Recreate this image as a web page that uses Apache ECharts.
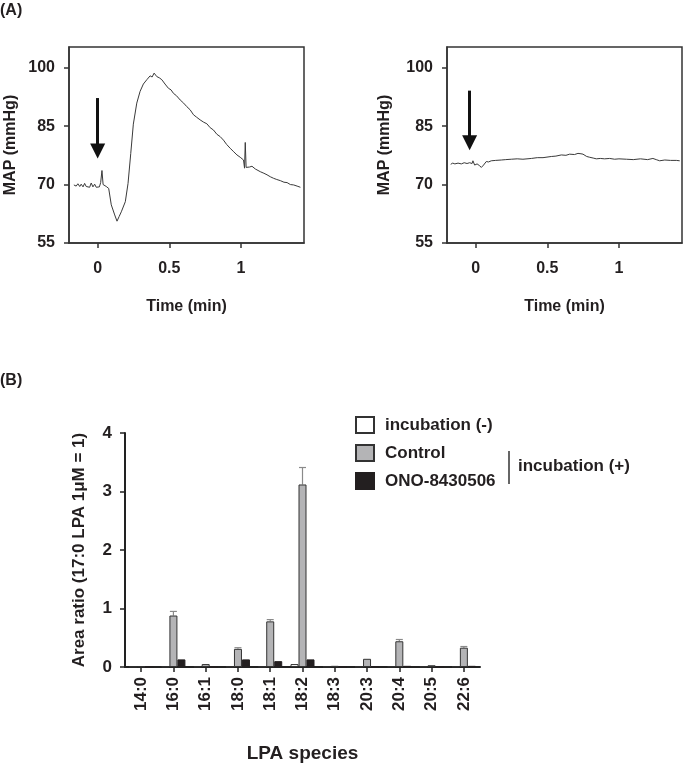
<!DOCTYPE html>
<html>
<head>
<meta charset="utf-8">
<script src="https://cdn.jsdelivr.net/npm/echarts@6/dist/echarts.min.js"></script>
<style>
html,body{margin:0;padding:0;background:#fff;}
#chart{width:685px;height:764px;}
</style>
</head>
<body>
<div id="chart"></div>
<script>
// ---- Panel A data (time in min, MAP in mmHg) ----
const traceLeft = [
  [-0.166, 69.9], [-0.150, 69.6], [-0.138, 70.2], [-0.125, 69.5], [-0.115, 70.1], [-0.102, 69.4],
  [-0.091, 70.3], [-0.080, 69.5], [-0.068, 70.0], [-0.056, 69.3], [-0.045, 70.4], [-0.033, 69.4],
  [-0.021, 70.1], [-0.010, 69.3], [0.002, 69.8], [0.012, 69.4], [0.021, 70.5], [0.030, 73.6],
  [0.038, 70.0], [0.044, 69.6], [0.060, 69.5], [0.077, 69.0], [0.095, 64.8], [0.119, 62.2],
  [0.135, 60.6], [0.150, 61.8], [0.165, 63.0], [0.193, 65.6], [0.212, 70.3], [0.231, 78.0],
  [0.249, 85.5], [0.273, 90.9], [0.296, 93.9], [0.319, 95.8], [0.343, 96.9], [0.355, 97.3],
  [0.366, 97.9], [0.380, 97.6], [0.394, 98.6], [0.404, 98.1], [0.413, 97.7], [0.430, 97.4],
  [0.448, 96.9], [0.470, 95.8], [0.494, 94.7], [0.512, 94.3], [0.529, 93.4], [0.550, 92.8],
  [0.576, 91.7], [0.600, 90.9], [0.622, 90.0], [0.645, 89.2], [0.669, 87.9], [0.690, 87.3],
  [0.715, 86.6], [0.740, 86.0], [0.762, 85.6], [0.785, 84.6], [0.808, 84.0], [0.832, 82.9],
  [0.855, 82.3], [0.878, 81.4], [0.900, 80.3], [0.925, 79.3], [0.950, 78.4], [0.972, 77.6],
  [0.995, 77.0], [1.018, 76.3], [1.025, 74.2], [1.030, 80.8], [1.036, 74.4], [1.045, 74.6],
  [1.060, 74.5], [1.077, 74.7], [1.100, 74.0], [1.135, 73.3], [1.160, 72.9], [1.182, 72.5],
  [1.205, 72.0], [1.228, 71.6], [1.250, 71.3], [1.275, 71.0], [1.300, 70.6], [1.322, 70.5],
  [1.345, 70.0], [1.368, 69.9], [1.392, 69.6], [1.415, 69.3]
];
const traceRight = [
  [-0.174, 75.2], [-0.160, 75.5], [-0.145, 75.3], [-0.123, 75.5], [-0.100, 75.3], [-0.080, 75.6],
  [-0.060, 75.4], [-0.042, 75.6], [-0.025, 75.4], [-0.019, 76.1], [-0.012, 75.9], [-0.007, 75.0],
  [0.010, 75.3], [0.025, 74.9], [0.040, 74.4], [0.055, 75.0], [0.074, 75.9], [0.090, 75.8],
  [0.109, 76.1], [0.140, 76.2], [0.179, 76.3], [0.210, 76.4], [0.249, 76.5], [0.290, 76.6],
  [0.330, 76.5], [0.389, 76.7], [0.430, 76.9], [0.470, 76.9], [0.528, 77.2], [0.560, 77.3],
  [0.598, 77.6], [0.630, 77.5], [0.656, 77.8], [0.690, 77.7], [0.714, 78.0], [0.735, 77.9],
  [0.749, 77.8], [0.775, 77.2], [0.796, 77.0], [0.820, 76.8], [0.842, 76.6], [0.870, 76.7],
  [0.900, 76.6], [0.935, 76.7], [0.970, 76.5], [1.000, 76.6], [1.052, 76.5], [1.100, 76.4],
  [1.150, 76.6], [1.200, 76.4], [1.237, 76.7], [1.260, 76.4], [1.284, 76.1], [1.320, 76.3],
  [1.360, 76.2], [1.400, 76.2], [1.424, 76.1]
];
const arrowLeft = [[0.0, 92.2], [0.0, 78.6]];
const arrowRight = [[-0.042, 94.1], [-0.042, 80.7]];
const timeTicks = [0, 0.5, 1];
const mapTicks = [55, 70, 85, 100];

// ---- Panel B data ----
const lpaSpecies = ['14:0','16:0','16:1','18:0','18:1','18:2','18:3','20:3','20:4','20:5','22:6'];
const incubationMinus = [0.005, 0.005, 0.005, 0.005, 0.005, 0.05, 0.005, 0.005, 0.01, 0.005, 0.005];
const controlValues = [0.01, 0.88, 0.05, 0.31, 0.78, 3.12, 0.02, 0.14, 0.44, 0.03, 0.33];
const onoValues = [0.0, 0.13, 0.0, 0.13, 0.10, 0.13, 0.0, 0.01, 0.02, 0.0, 0.02];
const controlErrTop = [null, 0.95, null, 0.33, 0.81, 3.41, null, null, 0.47, null, 0.35];

const FONT = "'Liberation Sans', Arial, sans-serif";
const INK = '#231f20';

const chart = echarts.init(document.getElementById('chart'), null, {renderer: 'canvas'});

function timeAxis(gridIndex) {
  return {
    type: 'value', gridIndex: gridIndex, min: -0.2, max: 1.44,
    name: 'Time (min)', nameLocation: 'middle', nameGap: 56,
    nameTextStyle: {fontFamily: FONT, fontSize: 16, fontWeight: 'bold', color: INK},
    axisLine: {show: true, onZero: false, lineStyle: {color: '#333', width: 1.5}},
    axisTick: {show: true, length: 5, customValues: timeTicks, lineStyle: {color: '#333', width: 1.5}},
    axisLabel: {customValues: timeTicks, margin: 18, fontFamily: FONT, fontSize: 16, fontWeight: 'bold', color: INK,
      formatter: v => String(v)},
    splitLine: {show: false}
  };
}
function mapAxis(gridIndex, gap) {
  return {
    type: 'value', gridIndex: gridIndex, min: 55, max: 105.3,
    name: 'MAP (mmHg)', nameLocation: 'middle', nameGap: gap, nameRotate: 90,
    nameTextStyle: {fontFamily: FONT, fontSize: 16, fontWeight: 'bold', color: INK},
    axisLine: {show: true, onZero: false, lineStyle: {color: '#333', width: 1.5}},
    axisTick: {show: true, length: 5, customValues: mapTicks, lineStyle: {color: '#333', width: 1.5}},
    axisLabel: {customValues: mapTicks, margin: 14, fontFamily: FONT, fontSize: 16, fontWeight: 'bold', color: INK},
    splitLine: {show: false}
  };
}
function arrowMark(pts) {
  return {
    silent: true, animation: false,
    symbol: ['none', 'triangle'], symbolSize: [15, 15],
    label: {show: false},
    lineStyle: {color: '#111', width: 3, type: 'solid'},
    emphasis: {disabled: true},
    data: [[{coord: pts[0]}, {coord: pts[1]}]]
  };
}

const barBase = {
  type: 'bar', xAxisIndex: 2, yAxisIndex: 2, barWidth: 8, barGap: '0%',
  emphasis: {disabled: true}
};

const option = {
  animation: false,
  backgroundColor: '#fff',
  grid: [
    {left: 69, top: 47, width: 235, height: 196, show: true, borderColor: '#333', borderWidth: 1.5, backgroundColor: 'transparent'},
    {left: 447, top: 47, width: 235, height: 196, show: true, borderColor: '#333', borderWidth: 1.5, backgroundColor: 'transparent'},
    {left: 125, top: 433, width: 355, height: 234}
  ],
  xAxis: [
    timeAxis(0),
    timeAxis(1),
    {
      type: 'category', gridIndex: 2, data: lpaSpecies,
      name: 'LPA species', nameLocation: 'middle', nameGap: 77,
      nameTextStyle: {fontFamily: FONT, fontSize: 19, fontWeight: 'bold', color: INK},
      axisLine: {show: true, lineStyle: {color: '#222', width: 2}},
      axisTick: {show: true, alignWithLabel: true, length: 5, lineStyle: {color: '#222', width: 1.5}},
      axisLabel: {rotate: 90, margin: 10, interval: 0, fontFamily: FONT, fontSize: 17, fontWeight: 'bold', color: INK}
    }
  ],
  yAxis: [
    mapAxis(0, 50),
    mapAxis(1, 54),
    {
      type: 'value', gridIndex: 2, min: 0, max: 4, interval: 1,
      name: 'Area ratio (17:0 LPA 1μM = 1)', nameLocation: 'middle', nameGap: 37, nameRotate: 90,
      nameTextStyle: {fontFamily: FONT, fontSize: 17, fontWeight: 'bold', color: INK},
      axisLine: {show: true, lineStyle: {color: '#222', width: 2}},
      axisTick: {show: true, length: 5, lineStyle: {color: '#222', width: 1.5}},
      axisLabel: {margin: 13, fontFamily: FONT, fontSize: 17, fontWeight: 'bold', color: INK},
      splitLine: {show: false}
    }
  ],
  legend: {
    orient: 'vertical', left: 350, top: 411, itemWidth: 18, itemHeight: 16, itemGap: 10,
    icon: 'rect', selectedMode: false,
    textStyle: {fontFamily: FONT, fontSize: 17, fontWeight: 'bold', color: INK, padding: [0, 0, 0, 6]},
    data: ['incubation (-)', 'Control', 'ONO-8430506']
  },
  graphic: [
    {type: 'text', left: 0, top: 3, style: {text: '(A)', font: "bold 16px 'Liberation Sans', Arial, sans-serif", fill: INK}},
    {type: 'text', left: 0, top: 373, style: {text: '(B)', font: "bold 16px 'Liberation Sans', Arial, sans-serif", fill: INK}},
    {type: 'line', shape: {x1: 509, y1: 451, x2: 509, y2: 484}, style: {stroke: '#333', lineWidth: 1.5}},
    {type: 'text', left: 518, top: 458, style: {text: 'incubation (+)', font: "bold 17px 'Liberation Sans', Arial, sans-serif", fill: INK}}
  ],
  series: [
    {
      type: 'line', xAxisIndex: 0, yAxisIndex: 0, data: traceLeft, showSymbol: false, symbol: 'none',
      lineStyle: {color: '#3a3a3a', width: 1}, silent: true, markLine: arrowMark(arrowLeft)
    },
    {
      type: 'line', xAxisIndex: 1, yAxisIndex: 1, data: traceRight, showSymbol: false, symbol: 'none',
      lineStyle: {color: '#3a3a3a', width: 1}, silent: true, markLine: arrowMark(arrowRight)
    },
    Object.assign({}, barBase, {name: 'incubation (-)', data: incubationMinus,
      itemStyle: {color: '#ffffff', borderColor: '#333', borderWidth: 1}}),
    Object.assign({}, barBase, {name: 'Control', data: controlValues,
      itemStyle: {color: '#b4b4b6', borderColor: '#333', borderWidth: 1}}),
    Object.assign({}, barBase, {name: 'ONO-8430506', data: onoValues,
      itemStyle: {color: '#231f20', borderColor: '#231f20', borderWidth: 1}}),
    {
      type: 'custom', xAxisIndex: 2, yAxisIndex: 2, silent: true, z: 1,
      data: controlErrTop.map((v, i) => v == null ? null : [i, v, controlValues[i]]).filter(d => d),
      renderItem: function (params, api) {
        const top = api.coord([api.value(0), api.value(1)]);
        const base = api.coord([api.value(0), api.value(2)]);
        const st = {stroke: '#8a8a8a', lineWidth: 1.2};
        return {
          type: 'group', children: [
            {type: 'line', shape: {x1: top[0], y1: top[1], x2: base[0], y2: base[1]}, style: st},
            {type: 'line', shape: {x1: top[0] - 3.5, y1: top[1], x2: top[0] + 3.5, y2: top[1]}, style: st}
          ]
        };
      }
    }
  ]
};
chart.setOption(option);
</script>
</body>
</html>
